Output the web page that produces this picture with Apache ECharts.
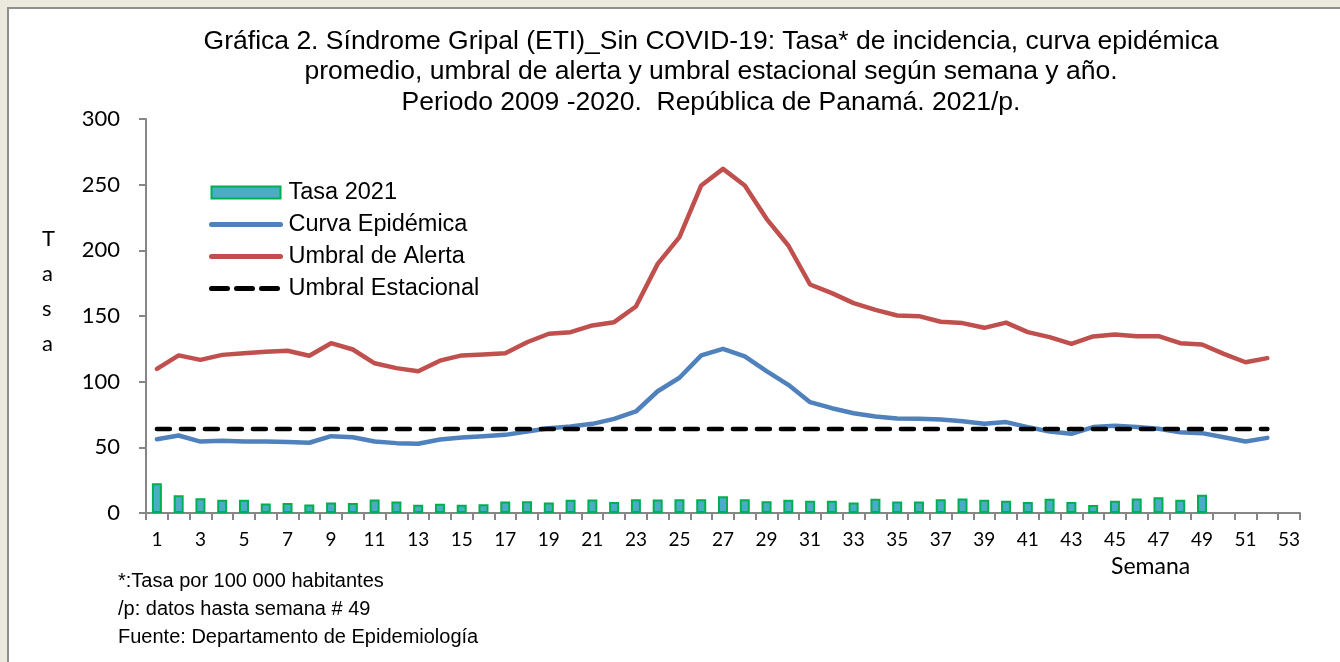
<!DOCTYPE html>
<html>
<head>
<meta charset="utf-8">
<script src="https://cdn.jsdelivr.net/npm/echarts@6/dist/echarts.min.js"></script>
<style>
html,body{margin:0;padding:0;background:#ECE9DF;}
#chart{width:1340px;height:662px;}
</style>
</head>
<body>
<div id="chart"></div>
<script>
var semanas = ['1','2','3','4','5','6','7','8','9','10','11','12','13','14','15','16','17','18','19','20','21','22','23','24','25','26','27','28','29','30','31','32','33','34','35','36','37','38','39','40','41','42','43','44','45','46','47','48','49','50','51','52','53'];
var tasa2021 = [22.7,13.6,11.3,10,10,7.2,7.7,6.5,8,7.7,10.3,8.8,6.2,7,6.2,6.7,8.8,9,8,10,10.3,8.3,10.5,10.3,10.5,10.5,12.8,10.5,9,10,9.3,9.3,8,10.8,8.8,8.8,10.5,11,10,9.3,8.3,10.8,8.3,6,9.3,11,12,10,13.9];
var curvaEpidemica = [56.2,59,54.4,55,54.4,54.4,54,53.5,58.5,57.7,54.4,53.2,52.7,56,57.5,58.5,59.5,62,64.6,65.9,67.9,71.7,77.3,92.7,103,120,125,119.2,108,97.6,84.4,79.8,76,73.5,72,71.7,71.2,69.9,67.9,69.2,65.4,62,60.3,65.4,66.4,65.4,64.1,61.5,60.8,57.7,54.4,57.2];
var umbralAlerta = [109.8,120,116.6,120.4,121.7,122.7,123.5,119.7,129.3,124.5,114,110.3,108,116,120,120.7,121.7,130,136.5,137.7,142.8,145.3,157.2,189.7,210,249.4,262,249.4,224,203.7,174,167.4,159.8,154.7,150.4,149.9,145.6,144.6,141,145,137.7,133.9,128.8,134.4,135.9,134.6,134.6,129.3,128.3,121.2,114.8,117.9];
var umbralEstacional = [64,64,64,64,64,64,64,64,64,64,64,64,64,64,64,64,64,64,64,64,64,64,64,64,64,64,64,64,64,64,64,64,64,64,64,64,64,64,64,64,64,64,64,64,64,64,64,64,64,64,64,64];
var yTicks = [0,50,100,150,200,250,300];

var chart = echarts.init(document.getElementById('chart'), null, {renderer:'canvas'});
var sans = '"Liberation Sans", Arial, sans-serif';
var calib = 'Lato, "Open Sans", sans-serif';
var option = {
  backgroundColor: '#ECE9DF',
  animation: false,
  title: {
    text: 'Gráfica 2. Síndrome Gripal (ETI)_Sin COVID-19: Tasa* de incidencia, curva epidémica\npromedio, umbral de alerta y umbral estacional según semana y año.\nPeriodo 2009 -2020.  República de Panamá. 2021/p.',
    left: 711, top: 26, textAlign: 'center', padding: 0,
    textStyle: {fontFamily: sans, fontSize: 26.5, fontWeight: 'normal', color: '#000', lineHeight: 30.5, align: 'center'}
  },
  legend: {
    orient: 'vertical', left: 209, top: 180.5, padding: 0,
    itemWidth: 69, itemHeight: 12, itemGap: 8,
    textStyle: {fontFamily: sans, fontSize: 23.5, color: '#000', padding: [0,0,0,3]},
    data: [
      {name: 'Tasa 2021', icon: 'rect'},
      {name: 'Curva Epidémica', itemStyle: {opacity: 0}, lineStyle: {width: 5, color: '#4F81BD', cap: 'round'}},
      {name: 'Umbral de Alerta', itemStyle: {opacity: 0}, lineStyle: {width: 5, color: '#C0504D', cap: 'round'}},
      {name: 'Umbral Estacional', itemStyle: {opacity: 0}, lineStyle: {width: 5, color: '#000', type: [16, 9], cap: 'round'}}
    ]
  },
  grid: {left: 146, right: 40, top: 119, bottom: 149, containLabel: false},
  xAxis: {
    type: 'category', data: semanas, boundaryGap: true,
    axisLine: {lineStyle: {color: '#868686', width: 2}},
    axisTick: {show: true, interval: 0, length: 7, lineStyle: {color: '#868686', width: 2}},
    axisLabel: {interval: 1, margin: 17, fontFamily: calib, fontSize: 19, color: '#000'},
    splitLine: {show: false}
  },
  yAxis: {
    type: 'value', min: 0, max: 300, interval: 50,
    axisLine: {show: true, lineStyle: {color: '#868686', width: 2}},
    axisTick: {show: true, length: 7, lineStyle: {color: '#868686', width: 2}},
    axisLabel: {margin: 26, fontFamily: calib, fontSize: 22, color: '#000',
      formatter: function(v){ return yTicks.indexOf(v) >= 0 ? String(v) : ''; }},
    splitLine: {show: false}
  },
  series: [
    {name: 'Tasa 2021', type: 'bar', data: tasa2021, barWidth: 10,
     itemStyle: {color: '#4BACC6', borderColor: '#00B050', borderWidth: 2}, z: 2},
    {name: 'Curva Epidémica', type: 'line', data: curvaEpidemica, symbol: 'none',
     lineStyle: {color: '#4F81BD', width: 4.5, cap: 'round', join: 'round'}, itemStyle: {color: '#4F81BD'}, z: 3},
    {name: 'Umbral de Alerta', type: 'line', data: umbralAlerta, symbol: 'none',
     lineStyle: {color: '#C0504D', width: 4.5, cap: 'round', join: 'round'}, itemStyle: {color: '#C0504D'}, z: 3},
    {name: 'Umbral Estacional', type: 'line', data: umbralEstacional, symbol: 'none',
     lineStyle: {color: '#000', width: 4.5, type: [13, 11], cap: 'round'}, itemStyle: {color: '#000'}, z: 4}
  ],
  graphic: [
    {type: 'rect', z: -10, silent: true, shape: {x: 8, y: 8, width: 1400, height: 700},
     style: {fill: '#fff', stroke: '#8E8E8E', lineWidth: 2}},
    {type: 'text', left: 42, top: 221, silent: true,
     style: {text: 'T\na\ns\na', font: '22px Lato, "Open Sans", sans-serif', fill: '#000', lineHeight: 35}},
    {type: 'text', left: 1111, top: 555, silent: true,
     style: {text: 'Semana', font: '23px Lato, "Open Sans", sans-serif', fill: '#000'}},
    {type: 'text', left: 118, top: 567, silent: true,
     style: {text: '*:Tasa por 100 000 habitantes\n/p: datos hasta semana # 49\nFuente: Departamento de Epidemiología',
       font: '20px "Liberation Sans", Arial, sans-serif', fill: '#000', lineHeight: 28}}
  ]
};
chart.setOption(option);
</script>
</body>
</html>
